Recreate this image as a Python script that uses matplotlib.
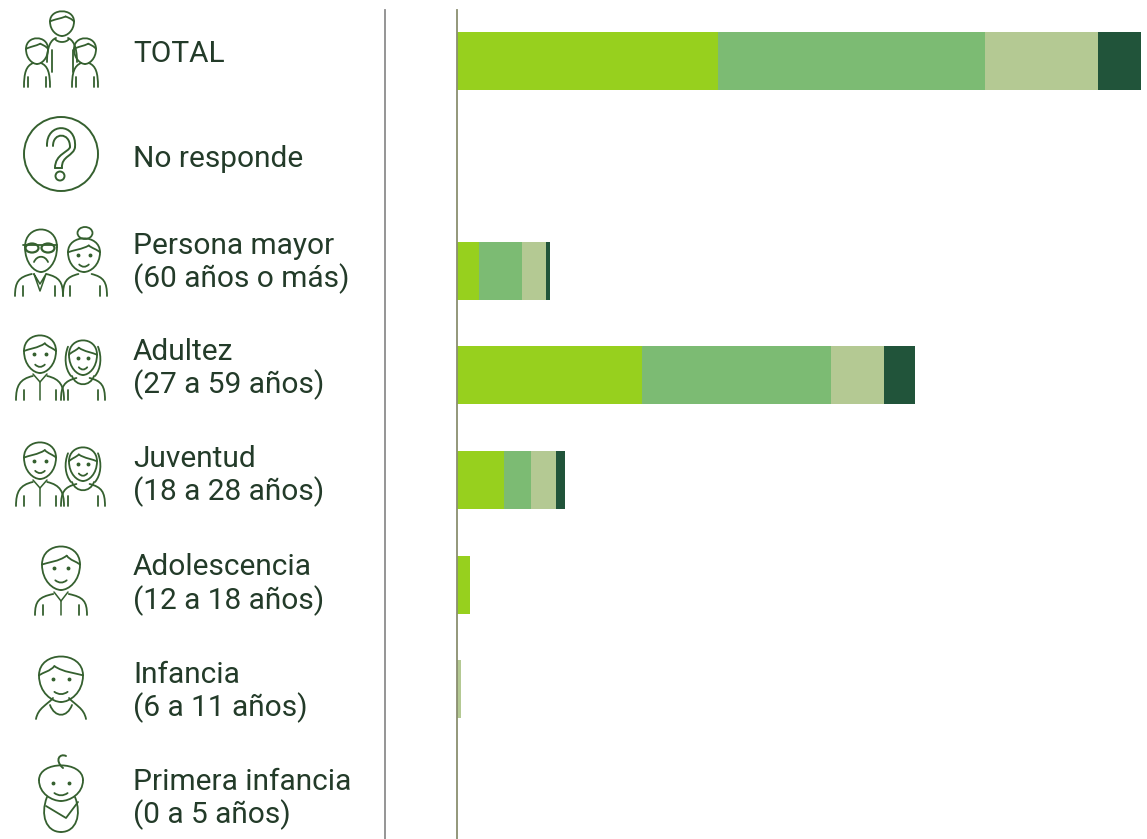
import matplotlib
matplotlib.use("Agg")
import matplotlib.pyplot as plt
import matplotlib.patches as mpatches
from matplotlib.path import Path
import numpy as np

plt.rcParams['font.family'] = ['Roboto', 'DejaVu Sans']

# data
#--------------------------------------
labels = ["TOTAL", "No responde", "Persona mayor\n(60 años o más)", "Adultez\n(27 a 59 años)",
          "Juventud\n(18 a 28 años)", "Adolescencia\n(12 a 18 años)", "Infancia\n(6 a 11 años)",
          "Primera infancia\n(0 a 5 años)"]
seg1 = [261, 0, 22, 185, 47, 13, 0, 0]
seg2 = [267, 0, 43, 189, 27, 0, 0, 0]
seg3 = [113, 0, 24, 53, 25, 0, 4, 0]
seg4 = [43, 0, 4, 31, 9, 0, 0, 0]
seg_colors = ["#97d01e", "#7cbb73", "#b4c993", "#21543a"]

W, H = 1147, 839
ICON = "#35602f"
TEXT = "#233b29"

fig = plt.figure(figsize=(W / 100, H / 100), dpi=100)

# overlay in pixels for rules, icons
#--------------------------------------
ov = fig.add_axes([0, 0, 1, 1])
ov.set_xlim(0, W)
ov.set_ylim(H, 0)
ov.axis("off")


def curve(pts, lw=1.3):
    # pts: start point then cubic triples
    codes = [Path.MOVETO] + [Path.CURVE4] * (len(pts) - 1)
    ov.add_patch(mpatches.PathPatch(Path(pts, codes), fc="none", ec=ICON, lw=lw, capstyle="round"))


def line(xs, ys, lw=1.3):
    ov.plot(xs, ys, color=ICON, lw=lw, solid_capstyle="round")


def bust(cx, neck, bottom, w, arm=True):
    # shoulders and arms
    for s in (-1, 1):
        curve([(cx + s * w, bottom), (cx + s * w, bottom - 14), (cx + s * w * 0.85, neck + 3), (cx + s * w * 0.3, neck)])
        if arm:
            line([cx + s * w * 0.68] * 2, [bottom, bottom - 10])


def face(cx, top, bot, rx, smile=True):
    # head from top to chin, jaw narrows under the ears
    mid = top + (bot - top) * 0.42
    curve([(cx - rx, mid), (cx - rx, top - (mid - top) * 0.3), (cx + rx, top - (mid - top) * 0.3), (cx + rx, mid)])
    curve([(cx - rx, mid), (cx - rx, bot - (bot - mid) * 0.35), (cx - rx * 0.4, bot), (cx, bot)])
    curve([(cx + rx, mid), (cx + rx, bot - (bot - mid) * 0.35), (cx + rx * 0.4, bot), (cx, bot)])
    if smile:
        ey = mid + (bot - mid) * 0.15
        ov.plot([cx - rx * 0.36, cx + rx * 0.36], [ey, ey], ls="none", marker="o", ms=1.8, color=ICON)
        sy = mid + (bot - mid) * 0.62
        curve([(cx - rx * 0.3, sy), (cx - rx * 0.1, sy + 3), (cx + rx * 0.1, sy + 3), (cx + rx * 0.3, sy)])


def hair(cx, top, bot, rx, s=1):
    # fringe line over the forehead
    mid = top + (bot - top) * 0.42
    fy = top + (bot - top) * 0.22
    curve([(cx - s * rx, mid), (cx - s * rx * 0.7, mid - 2), (cx - s * rx * 0.1, mid - 3), (cx + s * rx * 0.3, fy)])
    curve([(cx + s * rx * 0.3, fy), (cx + s * rx * 0.5, mid - 4), (cx + s * rx * 0.8, mid - 3), (cx + s * rx, mid)])


def long_hair(cx, top, bot, rx):
    mid = top + (bot - top) * 0.42
    for s in (-1, 1):
        curve([(cx + s * rx, mid - 8), (cx + s * (rx + 4), mid + 2), (cx + s * (rx + 3), bot - 6), (cx + s * (rx - 3), bot + 1)])


# TOTAL
face(62, 11, 36, 12, smile=False)
hair(62, 11, 36, 12)
for s in (-1, 1):
    curve([(62 + s * 15, 62), (62 + s * 15, 46), (62 + s * 11, 40), (62 + s * 6, 38)])
    line([62 + s * 10.5, 62 + s * 10.5], [50, 72])
curve([(55, 39), (58, 43), (66, 43), (69, 39)])
for c in (37, 85):
    face(c, 38, 64, 11, smile=False)
    hair(c, 38, 64, 11)
    bust(c, 63, 87, 13)

# No responde
ov.add_patch(mpatches.Circle((61, 154), 37, fc="none", ec=ICON, lw=1.4))
curve([(47, 146), (46, 122), (77, 122), (75, 147)], lw=1.4)
curve([(75, 147), (74, 156), (61, 156), (62, 168)], lw=1.4)
curve([(53, 146), (53, 132), (70, 132), (70, 147)], lw=1.4)
curve([(70, 147), (69, 152), (55, 154), (55, 168)], lw=1.4)
line([55, 62], [168, 168], lw=1.4)
ov.add_patch(mpatches.Circle((60, 176), 4.5, fc="none", ec=ICON, lw=1.4))

# Persona mayor
face(41, 229, 272, 16, smile=False)
bust(39, 274, 296, 24)
for c in (32, 48):
    ov.add_patch(mpatches.Ellipse((c, 248), 13, 9, fc="none", ec=ICON, lw=1.6))
line([23, 57], [245, 245])
curve([(34, 262), (37, 255), (45, 255), (48, 262)])
line([34, 40, 46, 40, 34], [274, 284, 274, 291, 274], lw=1.1)
face(84, 238, 272, 16)
ov.add_patch(mpatches.Ellipse((85, 233), 15, 12, fc="none", ec=ICON, lw=1.3))
hair(84, 238, 272, 16)
bust(85, 274, 296, 22)

# Adultez, Juventud
for y0, y1 in ((335, 373), (442, 479)):
    face(40, y0, y1, 16)
    hair(40, y0, y1, 16)
    bust(40, y1 + 3, y1 + 27, 24)
    line([33, 40, 47], [y1 + 1, y1 + 9, y1 + 1], lw=1.1)
    line([40, 40], [y1 + 9, y1 + 27], lw=1.1)
    face(83, y0 + 5, y1 + 2, 14)
    hair(83, y0 + 5, y1 + 2, 14, s=-1)
    long_hair(83, y0 + 5, y1 + 2, 15)
    bust(83, y1 + 5, y1 + 27, 22)
    curve([(72, y1 + 3), (76, y1 + 14), (90, y1 + 14), (94, y1 + 3)])

# Adolescencia
face(61, 546, 590, 19)
hair(61, 546, 590, 19)
bust(61, 594, 615, 26)
line([54, 61, 68], [592, 601, 592], lw=1.1)
line([61, 61], [601, 615], lw=1.1)

# Infancia
face(61, 656, 702, 22)
hair(61, 656, 702, 22, s=-1)
for s in (-1, 1):
    curve([(61 + s * 25, 719), (61 + s * 23, 708), (61 + s * 14, 705), (61 + s * 8, 698)])
curve([(50, 705), (55, 718), (67, 718), (72, 705)])

# Primera infancia
face(61, 765, 801, 22)
curve([(63, 768), (54, 760), (60, 753), (66, 756)], lw=1.4)
curve([(47, 797), (40, 815), (46, 832), (61, 832)])
curve([(75, 797), (82, 815), (76, 832), (61, 832)])
line([46, 66, 78], [806, 818, 802])

# rules
ov.plot([385, 385], [10, H], color="#8c8c8c", lw=1.3)

# labels
label_y = [54, 159, 263, 369, 476, 584.5, 692, 799]
for lab, yc in zip(labels, label_y):
    ov.text(133, yc, lab, color=TEXT, fontsize=21.5, va="center", ha="left", linespacing=1.17)

# bars
#--------------------------------------
ax = fig.add_axes([457 / W, 0, (W - 457) / W, 1 - 10 / H])
ax.patch.set_alpha(0)
y = np.arange(len(labels))
ax.set_xlim(0, W - 457)
ax.set_ylim(7.43, -0.49)
left = np.zeros(len(labels))
for vals, col in zip((seg1, seg2, seg3, seg4), seg_colors):
    ax.barh(y, vals, left=left, height=0.555, color=col, linewidth=0)
    left += np.array(vals)
for side in ("top", "right", "bottom"):
    ax.spines[side].set_visible(False)
ax.spines["left"].set_color("#8a8f70")
ax.spines["left"].set_linewidth(1.3)
ax.set_xticks([])
ax.set_yticks([])

plt.savefig("out.png", dpi=100)
